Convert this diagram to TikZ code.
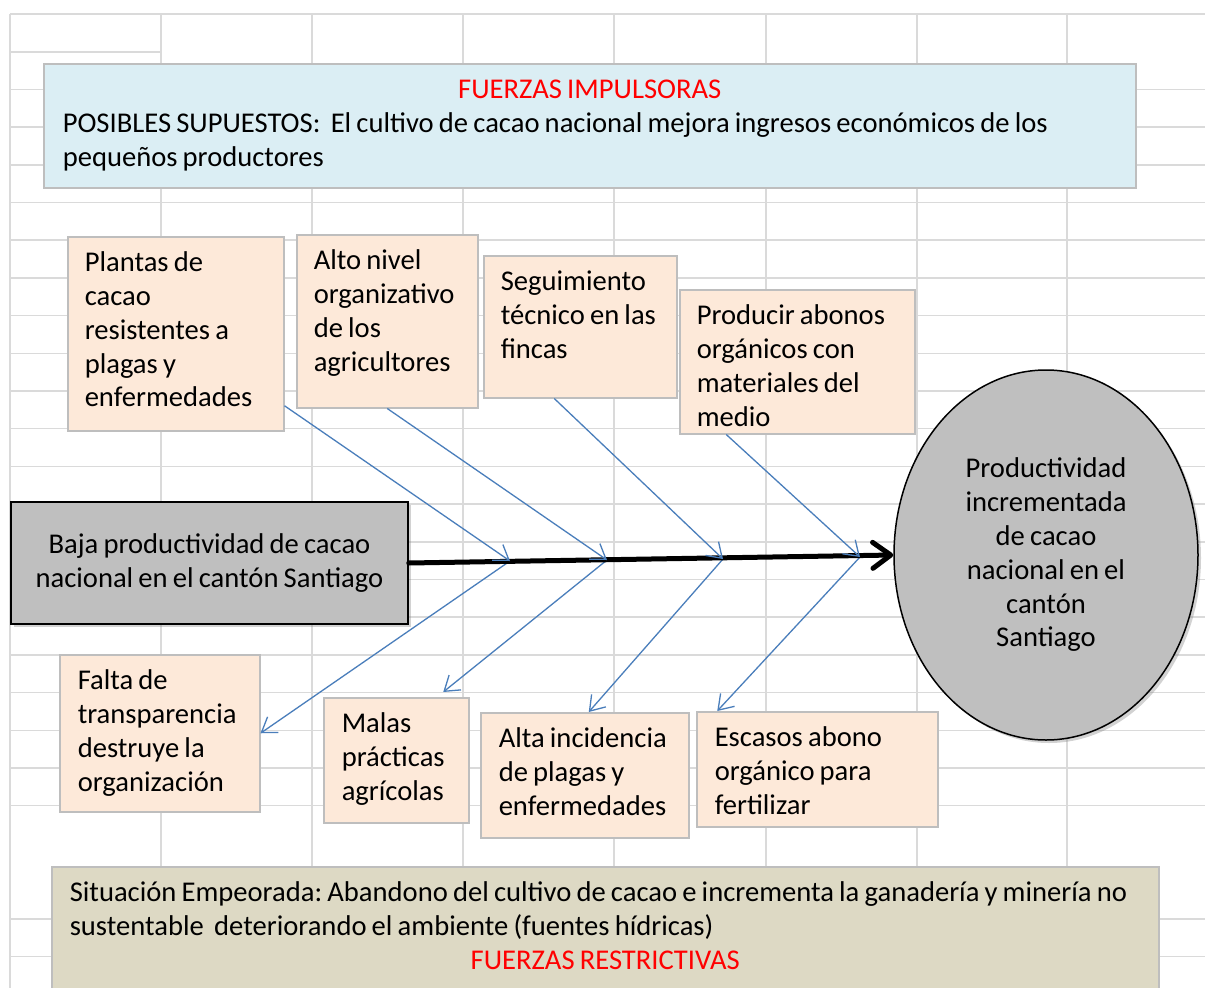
\documentclass[tikz,border=0pt]{standalone}
\usepackage{fontspec}
\setmainfont{Carlito}[WordSpace=0.8]
\usetikzlibrary{arrows.meta,shadows,shapes.geometric}

\definecolor{gridgray}{HTML}{DADADA}
\definecolor{boxline}{HTML}{BEBEBE}
\definecolor{causefill}{HTML}{FDE9D9}
\definecolor{impfill}{HTML}{DBEEF4}
\definecolor{resfill}{HTML}{DDD9C4}
\definecolor{probgray}{HTML}{BFBFBF}
\definecolor{forceblue}{HTML}{4A7EBB}
\definecolor{titlered}{HTML}{FF0000}
\hyphenpenalty=10000
\frenchspacing

\begin{document}
\begin{tikzpicture}[x=1pt,y=-1pt,
   font=\fontsize{28.6pt}{33.8pt}\selectfont,
   cellline/.style={gridgray,line width=1.5pt},
   cause/.style={rectangle,draw=boxline,fill=causefill,line width=1.5pt,
    anchor=north west,align=flush left,inner xsep=17pt,inner ysep=0pt,text height=35pt},
   problem/.style={draw,fill=probgray,line width=1.5pt,align=center,
    drop shadow={shadow xshift=3pt,shadow yshift=-3pt,opacity=0.35}},
   force/.style={forceblue,line width=1.3pt,-{Straight Barb[length=14pt,width=19pt]}},
   spine/.style={line width=5pt,line cap=round,-{Straight Barb[round,length=18pt,width=26pt]}}
    ]

  \fill[white] (0,0) rectangle (1205,988);
  \clip (0,0) rectangle (1205,988);

  % -- sheet grid
  \draw[cellline] (10,14) -- (1205,14);
  \draw[cellline] (10,52) -- (161,52);
  \foreach \k in {2,3,...,21,24,25}
    \draw[cellline] (10,{14+37.7*\k}) -- (1205,{14+37.7*\k});
  \foreach \x in {10,161,312,463,614,766,917,1067}
    \draw[cellline] (\x,14) -- (\x,988);

  % -- driving forces
  \node[cause,fill=impfill,inner xsep=19pt,text width=1054pt,text depth=89pt] (pro) at (43,63)
    {{\centering\color{titlered}FUERZAS IMPULSORAS\par}
     POSIBLES SUPUESTOS:\ \ El cultivo de cacao nacional mejora ingresos económicos de los\\ pequeños productores};

  % -- top row
  \node[cause,text width=182pt,text depth=159pt] (b1) at (67,236) {Plantas de\\ cacao\\ resistentes a\\ plagas y\\ enfermedades};
  \node[cause,text width=147pt,text depth=138pt] (b2) at (296,234) {Alto nivel\\ organizativo\\ de los\\ agricultores};
  \node[cause,text width=159pt,text depth=107pt] (b3) at (483,255) {Seguimiento\\ técnico en las\\ fincas};
  \node[cause,text width=201pt,text depth=109pt] (b4) at (679,289) {Producir abonos\\ orgánicos con\\ materiales del\\ medio};

  % -- problem and goal
  \node[problem,minimum width=397pt,minimum height=122pt] (src) at (209.5,563)
    {Baja productividad de cacao\\ nacional en el cantón Santiago};
  \node[problem,ellipse,minimum width=304pt,minimum height=370pt,inner sep=0pt] (goal) at (1046,555)
    {Productividad\\ incrementada\\ de cacao\\ nacional en el\\ cantón\\ Santiago};

  % -- bottom row
  \node[cause,inner xsep=18pt,text width=164pt,text depth=122pt] (b5) at (59,654) {Falta de\\ transparencia\\ destruye la\\ organización};
  \node[cause,inner xsep=18pt,text width=109pt,text depth=90pt] (b6) at (323,697) {Malas\\ prácticas\\ agrícolas};
  \node[cause,inner xsep=18pt,text width=172pt,text depth=90pt] (b7) at (480,712) {Alta incidencia\\ de plagas y\\ enfermedades};
  \node[cause,inner xsep=18pt,text width=205pt,text depth=80pt] (b8) at (696,711) {Escasos abono\\ orgánico para\\ fertilizar};

  % -- restraining forces
  \node[cause,fill=resfill,inner xsep=18pt,text width=1071pt,text depth=105pt] (con) at (51,866)
    {Situación Empeorada: Abandono del cultivo de cacao e incrementa la ganadería y minería no\\ sustentable\ \ deteriorando el ambiente (fuentes hídricas)\par
     {\centering\color{titlered}FUERZAS RESTRICTIVAS\par}};

  % -- arrows
  \coordinate (s1) at (510,561);
  \coordinate (s2) at (607,560);
  \coordinate (s3) at (723,559);
  \coordinate (s4) at (860,557);

  \draw[force] (s1) -- (b5.east);
  \draw[force] (s2) -- ([xshift=47pt,yshift=5pt]b6.north);
  \draw[force] (s3) -- ([xshift=4pt]b7.north);
  \draw[force] (s4) -- ([xshift=-100pt]b8.north);

  \draw[spine] (src.east) -- (goal.west);

  \draw[force] ([yshift=-72pt]b1.east) -- (s1);
  \draw[force] (b2.south) -- (s2);
  \draw[force] ([xshift=-26pt]b3.south) -- (s3);
  \draw[force] ([xshift=-71pt]b4.south) -- (s4);

\end{tikzpicture}
\end{document}
